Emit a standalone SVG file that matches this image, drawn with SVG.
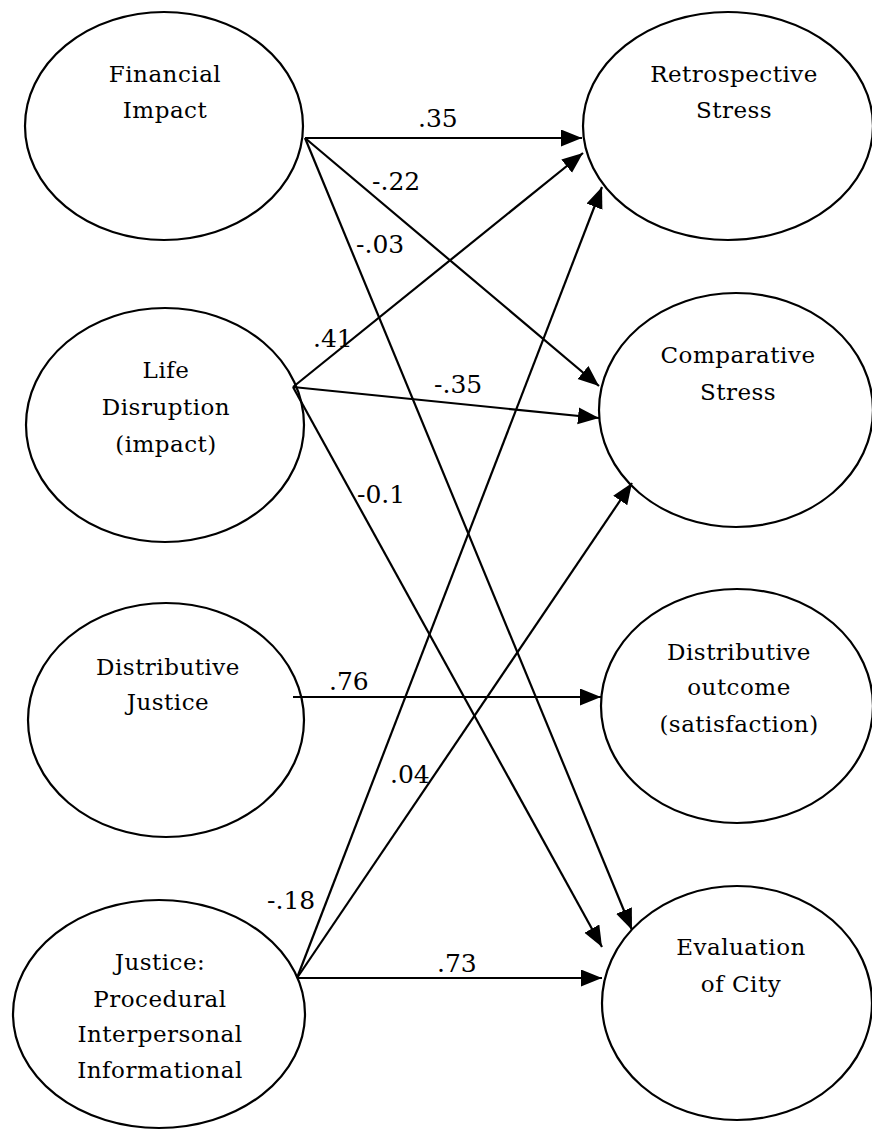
<svg xmlns="http://www.w3.org/2000/svg" width="872" height="1130" viewBox="0 0 872 1130">
<defs>
<marker id="ah" markerUnits="userSpaceOnUse" markerWidth="24" markerHeight="20" refX="21" refY="8.5" orient="auto">
<path d="M0,0 L21,8.5 L0,17 z" fill="#000"/>
</marker>
</defs>
<rect width="872" height="1130" fill="#fff"/>
<g font-family="DejaVu Serif, serif" font-size="23" letter-spacing="0.5" text-anchor="middle" fill="#000">
<g id="financial"><ellipse cx="164" cy="126" rx="139" ry="114" fill="#fff" stroke="#000" stroke-width="2.2"/><text x="165" y="82">Financial</text><text x="165" y="118">Impact</text></g>
<g id="life"><ellipse cx="165" cy="425" rx="139" ry="117" fill="#fff" stroke="#000" stroke-width="2.2"/><text x="166" y="378">Life</text><text x="166" y="415">Disruption</text><text x="166" y="452">(impact)</text></g>
<g id="distjustice"><ellipse cx="166" cy="720" rx="138" ry="117" fill="#fff" stroke="#000" stroke-width="2.2"/><text x="168" y="675">Distributive</text><text x="168" y="710">Justice</text></g>
<g id="justice"><ellipse cx="159" cy="1014" rx="146" ry="114" fill="#fff" stroke="#000" stroke-width="2.2"/><text x="160" y="970">Justice:</text><text x="160" y="1007">Procedural</text><text x="160" y="1042">Interpersonal</text><text x="160" y="1078">Informational</text></g>
<g id="retro"><ellipse cx="728" cy="126" rx="145" ry="114" fill="#fff" stroke="#000" stroke-width="2.2"/><text x="734" y="82">Retrospective</text><text x="734" y="118">Stress</text></g>
<g id="comparative"><ellipse cx="736" cy="410" rx="137" ry="117" fill="#fff" stroke="#000" stroke-width="2.2"/><text x="738" y="363">Comparative</text><text x="738" y="400">Stress</text></g>
<g id="distoutcome"><ellipse cx="737" cy="706" rx="136" ry="117" fill="#fff" stroke="#000" stroke-width="2.2"/><text x="739" y="660">Distributive</text><text x="739" y="695">outcome</text><text x="739" y="732">(satisfaction)</text></g>
<g id="evaluation"><ellipse cx="737" cy="1003" rx="135" ry="117" fill="#fff" stroke="#000" stroke-width="2.2"/><text x="741" y="955">Evaluation</text><text x="741" y="992">of City</text></g>
</g>
<g id="connectors" stroke="#000" stroke-width="2.2" marker-end="url(#ah)">
<line x1="305" y1="138" x2="582" y2="138"/>
<line x1="305" y1="138" x2="599" y2="386"/>
<line x1="305" y1="138" x2="632" y2="930"/>
<line x1="293" y1="387" x2="583" y2="153"/>
<line x1="293" y1="387" x2="599" y2="418"/>
<line x1="293" y1="387" x2="602" y2="947"/>
<line x1="293" y1="697" x2="601" y2="697"/>
<line x1="297" y1="978" x2="602" y2="187"/>
<line x1="297" y1="978" x2="632" y2="483"/>
<line x1="297" y1="978" x2="602" y2="978"/>
</g>
<g id="labels" font-family="DejaVu Serif, serif" font-size="25" fill="#000">
<text x="418" y="127">.35</text>
<text x="372" y="190">-.22</text>
<text x="356" y="253">-.03</text>
<text x="313" y="347">.41</text>
<text x="434" y="393">-.35</text>
<text x="357" y="503">-0.1</text>
<text x="329" y="690">.76</text>
<text x="390" y="783">.04</text>
<text x="267" y="909">-.18</text>
<text x="437" y="972">.73</text>
</g>
</svg>
